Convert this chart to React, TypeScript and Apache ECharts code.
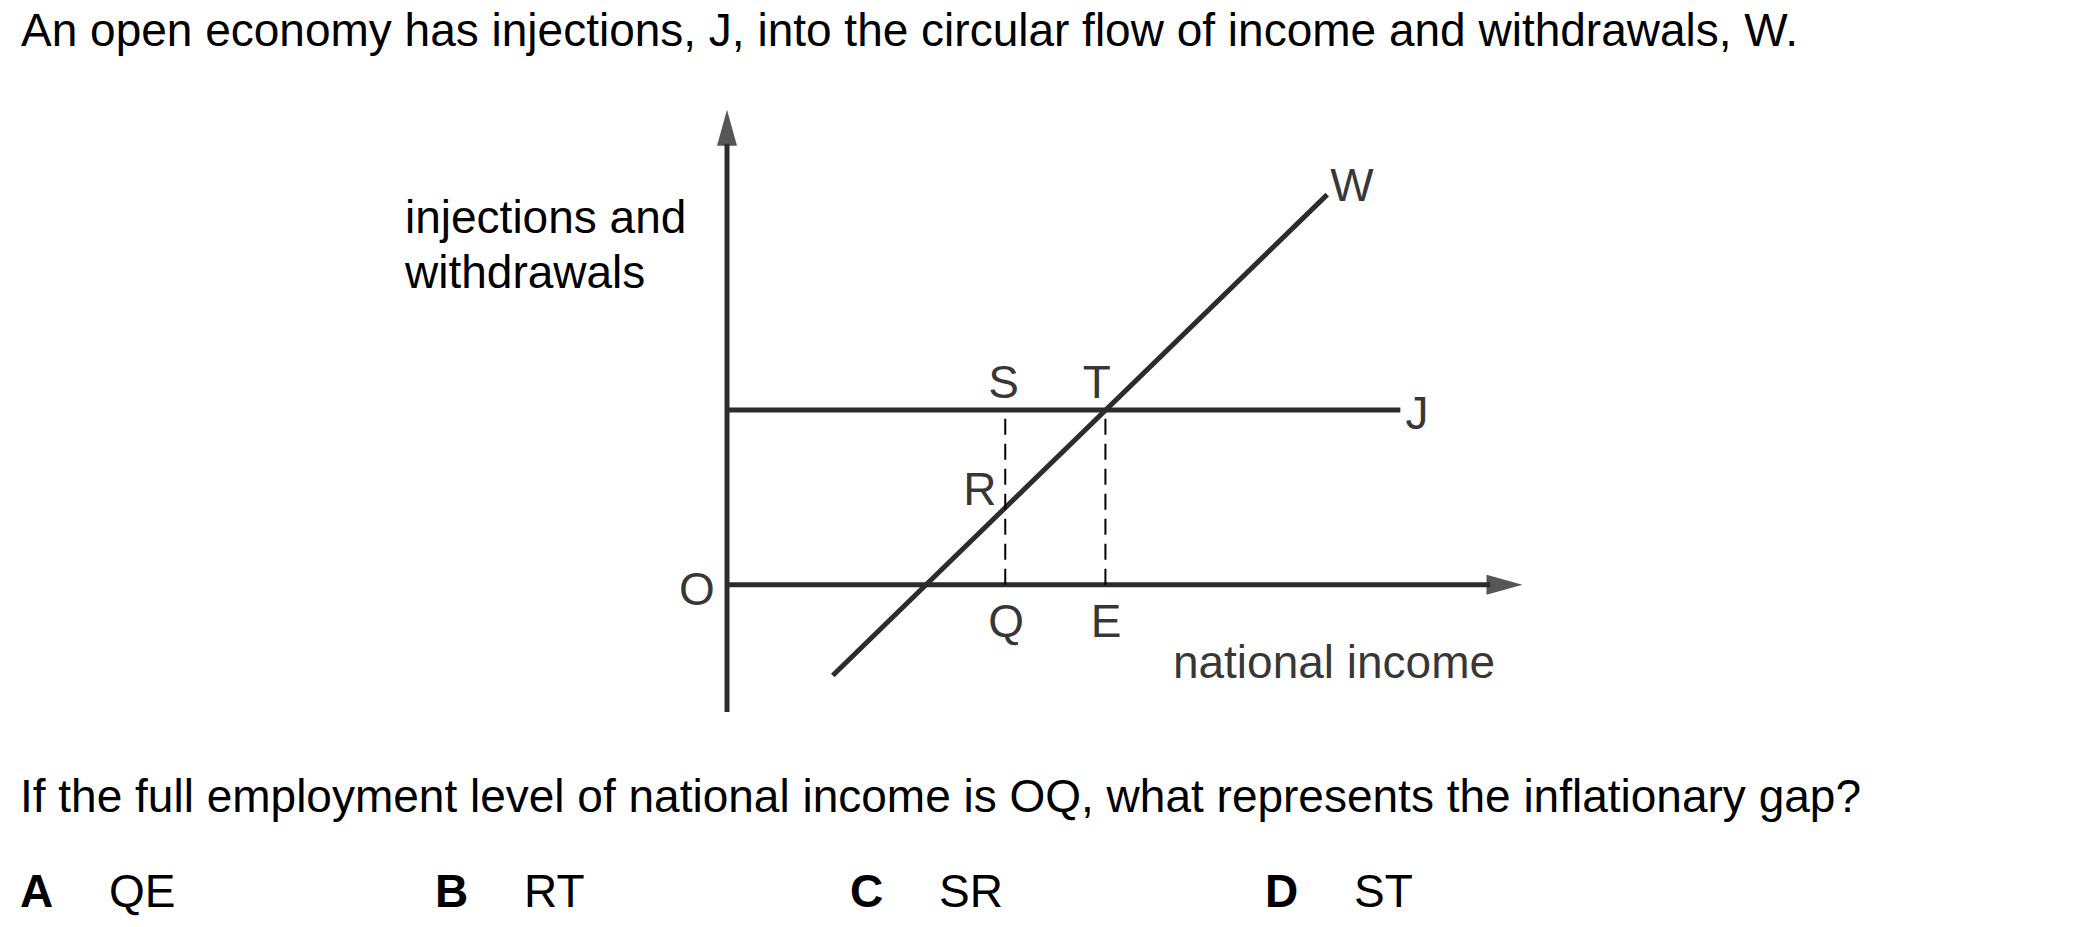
import React, { useEffect, useRef } from 'react';
import * as echarts from 'echarts';

// ---- texts ----
const titleText = 'An open economy has injections, J, into the circular flow of income and withdrawals, W.';
const questionText = 'If the full employment level of national income is OQ, what represents the inflationary gap?';
const yAxisTitleLines = ['injections and', 'withdrawals'];
const optionLetters = ['A', 'B', 'C', 'D'];
const optionAnswers = ['QE', 'RT', 'SR', 'ST'];

// ---- diagram data (abstract units; O = origin) ----
const xRange = [0, 100];
const yRange = [-16, 60];
const yAxisLinePts = [[0, -16], [0, 55.5]];
const yArrowHead = [[0, 57.5]];
const xAxisLinePts = [[0, 0], [96, 0]];
const xArrowHead = [[97.8, 0]];
const jLinePts = [[0, 22], [84.7, 22]];
const wLinePts = [[13.3, -11.4], [75.5, 49.1]];
const dropQPts = [[35, 0], [35, 22]];
const dropEPts = [[47.6, 0], [47.6, 22]];
const pointLabelNames = ['S', 'T', 'R', 'Q', 'E', 'O', 'W', 'J', 'national income'];
const pointLabelX = [34.8, 46.5, 31.8, 35.1, 47.7, -3.8, 78.6, 86.8, 76.35];
const pointLabelY = [25.5, 25.5, 12.1, -4.5, -4.5, -0.5, 50.3, 21.6, -9.75];

const FONT = 'Liberation Sans, Arial, sans-serif';
const FS = 46;
const LINE = '#2c2c2c';

export default function App() {
  const ref = useRef<HTMLDivElement>(null);
  useEffect(() => {
    if (!ref.current) return;
    const chart = echarts.init(ref.current, null, { renderer: 'svg' });
    const lineSeries = (name: string, data: number[][], width: number, color: string, type: any = 'solid') => ({
      name,
      type: 'line',
      data,
      symbol: 'none',
      showSymbol: false,
      silent: true,
      clip: false,
      lineStyle: { width, color, type, cap: 'butt' },
    });
    const graphics: any[] = [];
    graphics.push({
      type: 'text', x: 21, y: 30,
      style: { text: titleText, fontSize: FS, fontFamily: FONT, fill: '#000', align: 'left', verticalAlign: 'middle' },
    });
    yAxisTitleLines.forEach((t, i) => {
      graphics.push({
        type: 'text', x: 405, y: 217 + i * 55,
        style: { text: t, fontSize: FS, fontFamily: FONT, fill: '#000', align: 'left', verticalAlign: 'middle' },
      });
    });
    graphics.push({
      type: 'text', x: 20, y: 796,
      style: { text: questionText, fontSize: FS, fontFamily: FONT, fill: '#000', align: 'left', verticalAlign: 'middle' },
    });
    optionLetters.forEach((l, i) => {
      const x0 = 20 + i * 415;
      graphics.push({
        type: 'text', x: x0, y: 891,
        style: { text: l, fontSize: FS, fontWeight: 'bold', fontFamily: FONT, fill: '#000', align: 'left', verticalAlign: 'middle' },
      });
      graphics.push({
        type: 'text', x: x0 + 89, y: 891,
        style: { text: optionAnswers[i], fontSize: FS, fontFamily: FONT, fill: '#000', align: 'left', verticalAlign: 'middle' },
      });
    });

    chart.setOption({
      animation: false,
      backgroundColor: '#fff',
      textStyle: { fontFamily: FONT },
      grid: { left: 727, top: 108, width: 795, height: 604, containLabel: false },
      xAxis: { type: 'value', min: xRange[0], max: xRange[1], show: false },
      yAxis: { type: 'value', min: yRange[0], max: yRange[1], show: false },
      graphic: graphics,
      series: [
        lineSeries('yaxis', yAxisLinePts, 5, LINE),
        lineSeries('xaxis', xAxisLinePts, 5, LINE),
        {
          type: 'scatter', silent: true, clip: false, data: yArrowHead,
          symbol: 'triangle', symbolSize: [20, 36], itemStyle: { color: LINE },
        },
        {
          type: 'scatter', silent: true, clip: false, data: xArrowHead,
          symbol: 'triangle', symbolSize: [20, 36], symbolRotate: -90, itemStyle: { color: LINE },
        },
        lineSeries('J', jLinePts, 5, LINE),
        lineSeries('W', wLinePts, 5, LINE),
        lineSeries('dropQ', dropQPts, 2, '#000', [16, 9]),
        lineSeries('dropE', dropEPts, 2, '#000', [16, 9]),
        {
          type: 'scatter', silent: true, clip: false,
          data: pointLabelNames.map((n, i) => ({ name: n, value: [pointLabelX[i], pointLabelY[i]] })),
          symbol: 'circle', symbolSize: 1, itemStyle: { color: 'rgba(0,0,0,0)' },
          label: {
            show: true, position: 'inside', formatter: '{b}', fontSize: FS,
            fontFamily: FONT, color: '#000', align: 'center', verticalAlign: 'middle',
          },
        },
      ],
    });
    return () => chart.dispose();
  }, []);
  return <div ref={ref} style={{ position: 'absolute', left: 0, top: 0, width: 2099, height: 927 }} />;
}
